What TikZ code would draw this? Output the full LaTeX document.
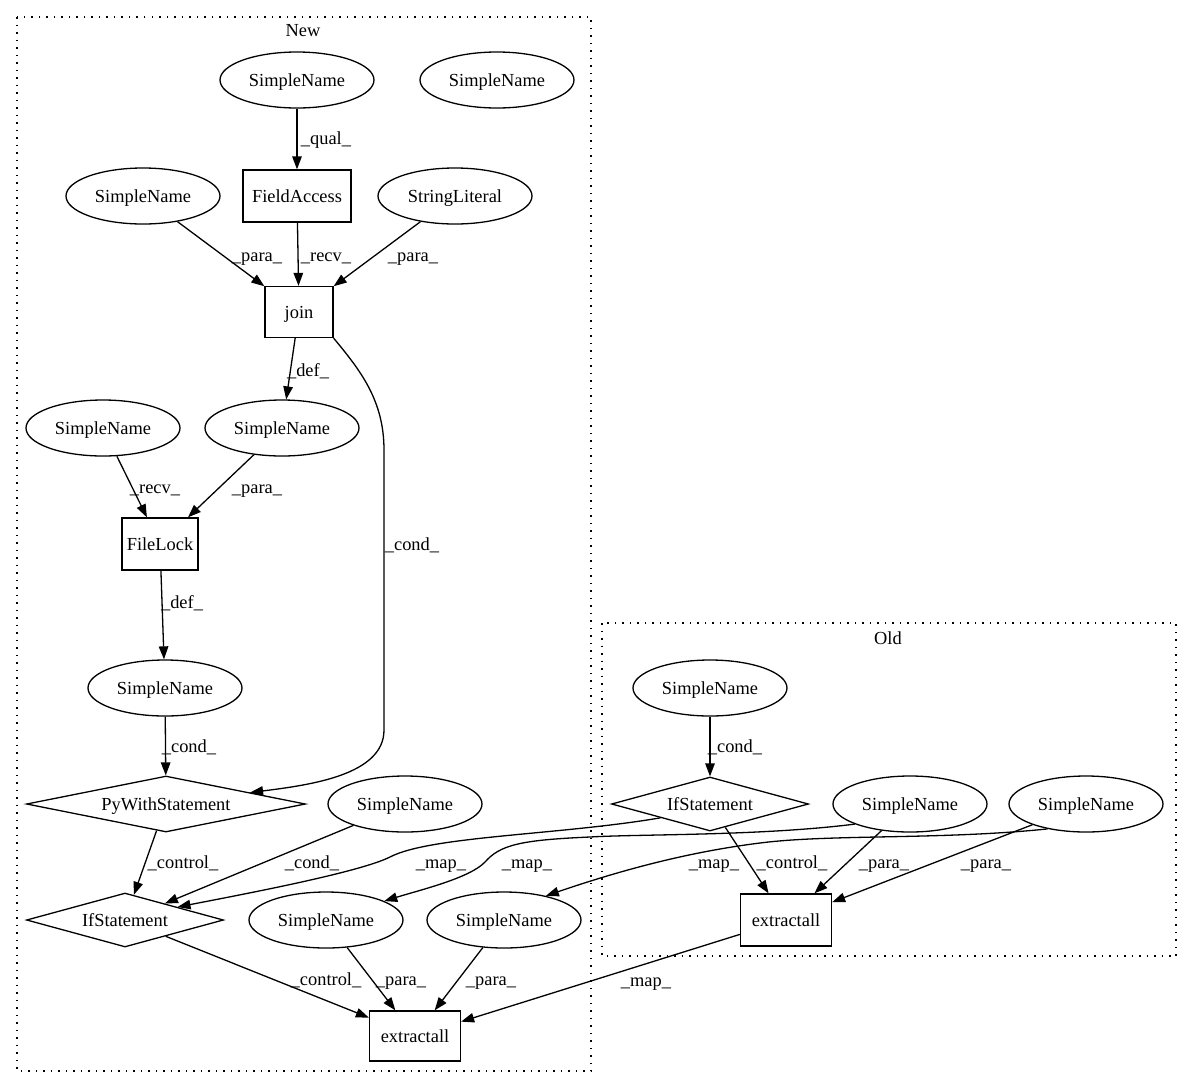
\documentclass[tikz,border=0pt]{standalone}
\usepackage{fontspec}
\setmainfont{Liberation Serif}
\usetikzlibrary{arrows.meta,shapes.geometric,calc}
\begin{document}
\begin{tikzpicture}[x=1pt,y=-1pt,
  every node/.style={font=\fontsize{18.4}{22}\selectfont, inner sep=0pt, text height=16pt, text depth=4pt},
  ell/.style={draw, ellipse, line width=1.3pt, minimum width=154pt, minimum height=56pt},
  box/.style={draw, rectangle, line width=1.3pt, minimum height=52pt},
  dia/.style={draw, diamond, line width=1.3pt},
  edge/.style={line width=1.3pt, -{Triangle[length=13pt,width=9.5pt]}},
  lab/.style={},
  cluster/.style={line width=1.3pt, dash pattern=on 1.5pt off 6pt}
]
\fill[white] (0,0) rectangle (1192,1088);
\useasboundingbox (0,0) rectangle (1192,1088);

% clusters
\draw[cluster] (17,17) rectangle (591,1071);
\node (tnew) at (303,30) {New};
\draw[cluster] (602,623) rectangle (1176,956);
\node (told) at (888,638) {Old};

% New nodes
\node[ell] (snq) at (297,80) {SimpleName};
\node[ell] (snfree) at (497,80) {SimpleName};
\node[box, minimum width=108pt] (fa) at (297,196) {FieldAccess};
\node[ell] (snl) at (143,196) {SimpleName};
\node[ell] (sl) at (455,196) {StringLiteral};
\node[box, minimum width=68pt, minimum height=51pt] (join) at (299,312) {join};
\node[ell] (sna) at (103,428) {SimpleName};
\node[ell] (snb) at (282,428) {SimpleName};
\node[box, minimum width=76pt] (fl) at (160,544) {FileLock};
\node[ell] (snc) at (165,688) {SimpleName};
\node[dia, minimum width=279pt, minimum height=56pt, aspect=5] (pyw) at (166,804) {PyWithStatement};
\node[ell] (snd) at (405,804) {SimpleName};
\node[dia, minimum width=197pt, minimum height=54pt, aspect=3.6] (ifn) at (125,920) {IfStatement};
\node[ell] (sne) at (326,920) {SimpleName};
\node[ell] (snf) at (504,920) {SimpleName};
\node[box, minimum width=91pt, minimum height=50pt] (exn) at (415,1036) {extractall};

% Old nodes
\node[ell] (sng) at (710,688) {SimpleName};
\node[dia, minimum width=197pt, minimum height=54pt, aspect=3.6] (ifo) at (710,804) {IfStatement};
\node[ell] (snh) at (910,804) {SimpleName};
\node[ell] (sni) at (1086,804) {SimpleName};
\node[box, minimum width=91pt, minimum height=52pt] (exo) at (786,920) {extractall};

% edges
\draw[edge] (snq) -- (fa);
\draw[edge] (snl) -- (join);
\draw[edge] (fa) -- (join);
\draw[edge] (sl) -- (join);
\draw[edge] (join) -- (snb);
\draw[edge] (join.south east) .. controls (360,370) and (384,400) .. (384,450) -- (384,730) .. controls (384,775) and (310,785) .. ($(pyw.north)!0.6!(pyw.east)$);
\draw[edge] (sna) -- (fl);
\draw[edge] (snb) -- (fl);
\draw[edge] (fl) -- (snc);
\draw[edge] (snc) -- (pyw);
\draw[edge] (pyw) -- (ifn);
\draw[edge] (snd) -- (ifn);
\draw[edge] ($(ifo.west)!0.5!(ifo.south)$) .. controls (560,835) and (430,836) .. (390,857) .. controls (360,872) and (250,893) .. ($(ifn.north)!0.53!(ifn.east)$);
\draw[edge] (snh.200) .. controls (760,836) and (640,834) .. (590,837) .. controls (520,840) and (500,845) .. (485,862) .. controls (470,878) and (420,890) .. (sne.18);
\draw[edge] (sni.213) .. controls (940,840) and (830,834) .. (760,843) .. controls (680,853) and (610,874) .. (snf.30);
\draw[edge] (sng) -- (ifo);
\draw[edge] (ifo) -- (exo);
\draw[edge] (snh) -- (exo);
\draw[edge] (sni) -- (exo);
\draw[edge] (ifn) -- (exn);
\draw[edge] (sne) -- (exn);
\draw[edge] (snf) -- (exn);
\draw[edge] (exo) -- (exn);

% labels
\node[lab] (l1) at (326,138) {\_qual\_};
\node[lab] (l2) at (257,255) {\_para\_};
\node[lab] (l3) at (326,255) {\_recv\_};
\node[lab] (l4) at (413,255) {\_para\_};
\node[lab] (l5) at (308,370) {\_def\_};
\node[lab] (l6) at (412,544) {\_cond\_};
\node[lab] (l7) at (155,487) {\_recv\_};
\node[lab] (l8) at (257,487) {\_para\_};
\node[lab] (l9) at (182,602) {\_def\_};
\node[lab] (l10) at (189,746) {\_cond\_};
\node[lab] (l11) at (183,862) {\_control\_};
\node[lab] (l12) at (312,862) {\_cond\_};
\node[lab] (l13) at (441,862) {\_map\_};
\node[lab] (l14) at (527,862) {\_map\_};
\node[lab] (l15) at (326,979) {\_control\_};
\node[lab] (l16) at (401,979) {\_para\_};
\node[lab] (l17) at (491,979) {\_para\_};
\node[lab] (l18) at (714,862) {\_map\_};
\node[lab] (l19) at (792,862) {\_control\_};
\node[lab] (l20) at (884,862) {\_para\_};
\node[lab] (l21) at (986,862) {\_para\_};
\node[lab] (l22) at (646,980) {\_map\_};
\node[lab] (l23) at (735,746) {\_cond\_};
\end{tikzpicture}
\end{document}
